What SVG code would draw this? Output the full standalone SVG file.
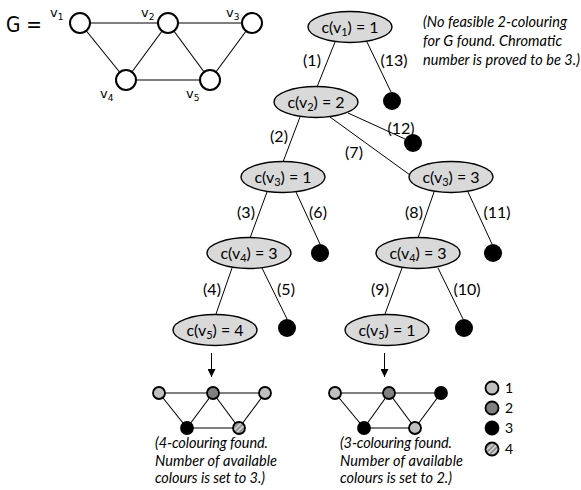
<svg xmlns="http://www.w3.org/2000/svg" width="581" height="490" viewBox="0 0 581 490">
<style>
.gnode{fill:#fff;stroke:#000;stroke-width:2}
.gedge{stroke:#000;stroke-width:1.1;fill:none}
.gl{font-family:"DejaVu Sans",Verdana,sans-serif;font-size:13px;fill:#000}
.tn{fill:#d9d9d9;stroke:#000;stroke-width:1.4}
.tt{font-family:Lato,"Liberation Sans",sans-serif;font-size:16px;fill:#000;text-anchor:middle}
.dot{fill:#000}
.edge{stroke:#000;stroke-width:1;fill:none}
.el{font-family:Lato,"Liberation Sans",sans-serif;font-size:16px;fill:#000;text-anchor:middle}
.note{font-family:Lato,"Liberation Sans",sans-serif;font-style:italic;font-size:14.5px;fill:#000}
.cn{stroke:#000;stroke-width:1.8}
.c1{fill:#c0c0c0}
.c2{fill:#808080}
.c3{fill:#000}
.c4{fill:url(#hatch)}
.leg{font-family:Lato,"Liberation Sans",sans-serif;font-size:14px;fill:#000}
</style>
<defs>
<pattern id="hatch" patternUnits="userSpaceOnUse" width="3.5" height="3.5" patternTransform="rotate(45)">
<rect width="3.5" height="3.5" fill="#8c8c8c"/>
<line x1="0.8" y1="0" x2="0.8" y2="3.5" stroke="#e6e6e6" stroke-width="1.3"/>
</pattern>
<marker id="arr" viewBox="0 0 10 10" refX="10" refY="5" markerWidth="8" markerHeight="8" markerUnits="userSpaceOnUse" orient="auto">
<path d="M0,0 L10,5 L0,10 z" fill="#000"/>
</marker>
</defs>

<!-- Graph G -->
<g id="graph-G">
<text x="6" y="32" font-family="DejaVu Sans,Verdana,sans-serif" font-size="21" textLength="36" lengthAdjust="spacingAndGlyphs">G =</text>
<g id="G-edges">
<line class="gedge" x1="80" y1="23" x2="168" y2="23"/>
<line class="gedge" x1="168" y1="23" x2="252" y2="23"/>
<line class="gedge" x1="80" y1="23" x2="126" y2="80"/>
<line class="gedge" x1="168" y1="23" x2="126" y2="80"/>
<line class="gedge" x1="168" y1="23" x2="210" y2="80"/>
<line class="gedge" x1="252" y1="23" x2="210" y2="80"/>
<line class="gedge" x1="126" y1="80" x2="210" y2="80"/>
</g>
<g id="G-v1"><circle class="gnode" cx="80" cy="23" r="10"/><text class="gl" x="50" y="17">v<tspan font-size="9" dy="3">1</tspan></text></g>
<g id="G-v2"><circle class="gnode" cx="168" cy="23" r="10"/><text class="gl" x="141" y="17">v<tspan font-size="9" dy="3">2</tspan></text></g>
<g id="G-v3"><circle class="gnode" cx="252" cy="23" r="10"/><text class="gl" x="226" y="17">v<tspan font-size="9" dy="3">3</tspan></text></g>
<g id="G-v4"><circle class="gnode" cx="126" cy="80" r="10"/><text class="gl" x="100" y="98">v<tspan font-size="9" dy="3">4</tspan></text></g>
<g id="G-v5"><circle class="gnode" cx="210" cy="80" r="10"/><text class="gl" x="186" y="98">v<tspan font-size="9" dy="3">5</tspan></text></g>
</g>

<!-- Connectors -->
<g id="connectors">
<line class="edge" x1="335" y1="42" x2="317" y2="87"/>
<line class="edge" x1="367" y1="42" x2="391" y2="92"/>
<line class="edge" x1="300" y1="117" x2="283" y2="162"/>
<line class="edge" x1="348" y1="113" x2="405" y2="139"/>
<line class="edge" x1="330" y1="117" x2="410" y2="175"/>
<line class="edge" x1="267" y1="192" x2="250" y2="238"/>
<line class="edge" x1="296" y1="192" x2="320" y2="244"/>
<line class="edge" x1="434" y1="192" x2="418" y2="238"/>
<line class="edge" x1="468" y1="192" x2="492" y2="244"/>
<line class="edge" x1="232" y1="268" x2="216" y2="314"/>
<line class="edge" x1="262" y1="268" x2="287" y2="319"/>
<line class="edge" x1="402" y1="268" x2="385" y2="314"/>
<line class="edge" x1="438" y1="268" x2="463" y2="319"/>
<line class="edge" x1="211.5" y1="353" x2="211.5" y2="377" marker-end="url(#arr)"/>
<line class="edge" x1="384.5" y1="353" x2="384.5" y2="377" marker-end="url(#arr)"/>
</g>

<!-- Edge labels -->
<g id="edge-labels">
<text class="el" x="312" y="66">(1)</text>
<text class="el" x="394" y="66">(13)</text>
<text class="el" x="279" y="142">(2)</text>
<text class="el" x="354" y="158">(7)</text>
<text class="el" x="401" y="134">(12)</text>
<text class="el" x="246" y="218">(3)</text>
<text class="el" x="318" y="218">(6)</text>
<text class="el" x="414" y="218">(8)</text>
<text class="el" x="497" y="218">(11)</text>
<text class="el" x="212" y="295">(4)</text>
<text class="el" x="286" y="295">(5)</text>
<text class="el" x="380" y="295">(9)</text>
<text class="el" x="467" y="295">(10)</text>
</g>

<!-- Tree nodes -->
<g id="n-v1-1"><ellipse class="tn" cx="350" cy="27" rx="42" ry="15.5"/><text class="tt" x="350" y="33">c(v<tspan font-size="11" dy="3">1</tspan><tspan dy="-3">) = 1</tspan></text></g>
<g id="n-v2-2"><ellipse class="tn" cx="316" cy="102" rx="42" ry="15.5"/><text class="tt" x="316" y="108">c(v<tspan font-size="11" dy="3">2</tspan><tspan dy="-3">) = 2</tspan></text></g>
<g id="n-v3-1"><ellipse class="tn" cx="283" cy="177" rx="42" ry="15.5"/><text class="tt" x="283" y="183">c(v<tspan font-size="11" dy="3">3</tspan><tspan dy="-3">) = 1</tspan></text></g>
<g id="n-v3-3"><ellipse class="tn" cx="451" cy="177" rx="42" ry="15.5"/><text class="tt" x="451" y="183">c(v<tspan font-size="11" dy="3">3</tspan><tspan dy="-3">) = 3</tspan></text></g>
<g id="n-v4-3a"><ellipse class="tn" cx="249" cy="253" rx="42" ry="15.5"/><text class="tt" x="249" y="259">c(v<tspan font-size="11" dy="3">4</tspan><tspan dy="-3">) = 3</tspan></text></g>
<g id="n-v4-3b"><ellipse class="tn" cx="418" cy="253" rx="42" ry="15.5"/><text class="tt" x="418" y="259">c(v<tspan font-size="11" dy="3">4</tspan><tspan dy="-3">) = 3</tspan></text></g>
<g id="n-v5-4"><ellipse class="tn" cx="215" cy="330" rx="42" ry="15.5"/><text class="tt" x="215" y="336">c(v<tspan font-size="11" dy="3">5</tspan><tspan dy="-3">) = 4</tspan></text></g>
<g id="n-v5-1"><ellipse class="tn" cx="387" cy="330" rx="42" ry="15.5"/><text class="tt" x="387" y="336">c(v<tspan font-size="11" dy="3">5</tspan><tspan dy="-3">) = 1</tspan></text></g>

<!-- Dead-end nodes -->
<g id="d13"><circle class="dot" cx="392" cy="101" r="9"/></g>
<g id="d12"><circle class="dot" cx="413" cy="143" r="9"/></g>
<g id="d6"><circle class="dot" cx="320" cy="253" r="9"/></g>
<g id="d11"><circle class="dot" cx="493" cy="253" r="9"/></g>
<g id="d5"><circle class="dot" cx="287" cy="328" r="9"/></g>
<g id="d10"><circle class="dot" cx="464" cy="328" r="9"/></g>

<!-- Top note -->
<g id="note-top">
<text class="note" x="423" y="27" textLength="144">(No feasible 2-colouring</text>
<text class="note" x="423" y="46" textLength="139">for G found. Chromatic</text>
<text class="note" x="423" y="65" textLength="157">number is proved to be 3.)</text>
</g>

<!-- Bottom-left colouring -->
<g id="col-4">
<g class="gedge">
<line x1="159" y1="393" x2="213" y2="393"/>
<line x1="213" y1="393" x2="265" y2="393"/>
<line x1="159" y1="393" x2="187" y2="428"/>
<line x1="213" y1="393" x2="187" y2="428"/>
<line x1="213" y1="393" x2="239" y2="428"/>
<line x1="265" y1="393" x2="239" y2="428"/>
<line x1="187" y1="428" x2="239" y2="428"/>
</g>
<circle class="cn c1" cx="159" cy="393" r="6"/>
<circle class="cn c2" cx="213" cy="393" r="6"/>
<circle class="cn c1" cx="265" cy="393" r="6"/>
<circle class="cn c3" cx="187" cy="428" r="6"/>
<circle class="cn c4" cx="239" cy="428" r="6"/>
<text class="note" x="155" y="448" textLength="113">(4-colouring found.</text>
<text class="note" x="155" y="466" textLength="122">Number of available</text>
<text class="note" x="155" y="483" textLength="110">colours is set to 3.)</text>
</g>

<!-- Bottom-right colouring -->
<g id="col-3">
<g class="gedge">
<line x1="335" y1="393" x2="389" y2="393"/>
<line x1="389" y1="393" x2="441" y2="393"/>
<line x1="335" y1="393" x2="364" y2="428"/>
<line x1="389" y1="393" x2="364" y2="428"/>
<line x1="389" y1="393" x2="415" y2="428"/>
<line x1="441" y1="393" x2="415" y2="428"/>
<line x1="364" y1="428" x2="415" y2="428"/>
</g>
<circle class="cn c1" cx="335" cy="393" r="6"/>
<circle class="cn c2" cx="389" cy="393" r="6"/>
<circle class="cn c3" cx="441" cy="393" r="6"/>
<circle class="cn c3" cx="364" cy="428" r="6"/>
<circle class="cn c1" cx="415" cy="428" r="6"/>
<text class="note" x="340" y="448" textLength="112">(3-colouring found.</text>
<text class="note" x="340" y="466" textLength="123">Number of available</text>
<text class="note" x="340" y="483" textLength="112">colours is set to 2.)</text>
</g>

<!-- Legend -->
<g id="legend">
<circle class="cn c1" cx="492" cy="388" r="6.5"/><text class="leg" x="505" y="393">1</text>
<circle class="cn c2" cx="492" cy="408" r="6.5"/><text class="leg" x="505" y="413">2</text>
<circle class="cn c3" cx="492" cy="428" r="6.5"/><text class="leg" x="505" y="433">3</text>
<circle class="cn c4" cx="492" cy="449" r="6.5"/><text class="leg" x="505" y="454">4</text>
</g>
</svg>
